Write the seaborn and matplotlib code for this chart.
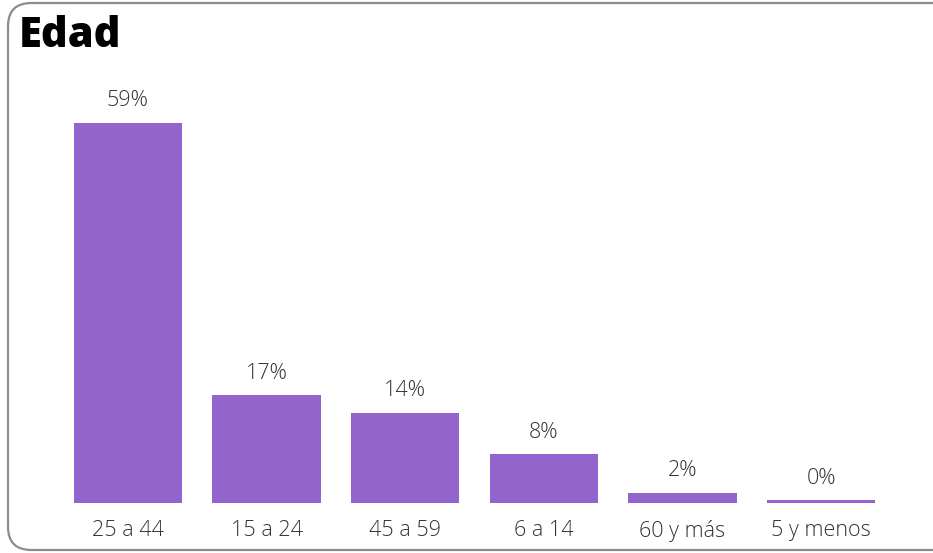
import numpy as np
import pandas as pd
import matplotlib.pyplot as plt
import seaborn as sns
from matplotlib.patches import FancyBboxPatch

sns.set_style("white")
plt.rcParams['font.family'] = ['Open Sans', 'DejaVu Sans']

grupos = ["25 a 44", "15 a 24", "45 a 59", "6 a 14", "60 y más", "5 y menos"]
porcentajes = [59.2, 16.8, 14.1, 7.6, 1.6, 0.4]

df = pd.DataFrame({"Edad": grupos, "Porcentaje": porcentajes})

fig = plt.figure(figsize=(9.33, 5.53), dpi=100)
ax = fig.add_axes([0.0628, 0.0904, 0.8916, 0.7649])

sns.barplot(data=df, x="Edad", y="Porcentaje", color="#9364CB", width=0.78,
            saturation=1, linewidth=0, ax=ax)

for i, v in enumerate(porcentajes):
    ax.text(i, v + 1.8, f"{v:.0f}%", ha="center", va="bottom",
            fontsize=15.5, fontweight="light", color="#333333")

ax.set_ylim(0, 65.9)
ax.set_xlim(-0.5, 5.5)
ax.set_xlabel("")
ax.set_ylabel("")
ax.set_yticks([])
ax.tick_params(axis="x", length=0, labelsize=15.5, labelcolor="#333333", pad=12)
for lbl in ax.get_xticklabels():
    lbl.set_fontweight("light")
sns.despine(ax=ax, left=True, bottom=True)

# rounded frame around the card
frame = FancyBboxPatch((8 / 933, 3 / 553), 1.05, 547 / 553,
                       boxstyle="round,pad=0,rounding_size=0.025",
                       transform=fig.transFigure, fill=False,
                       edgecolor="#8c8c8c", linewidth=1.6, mutation_aspect=933 / 553)
fig.patches.append(frame)

fig.text(19 / 933, 1 - 47 / 553, "Edad", fontsize=30, fontweight="heavy",
         color="black", ha="left", va="baseline")

fig.savefig("out.png", dpi=100)
